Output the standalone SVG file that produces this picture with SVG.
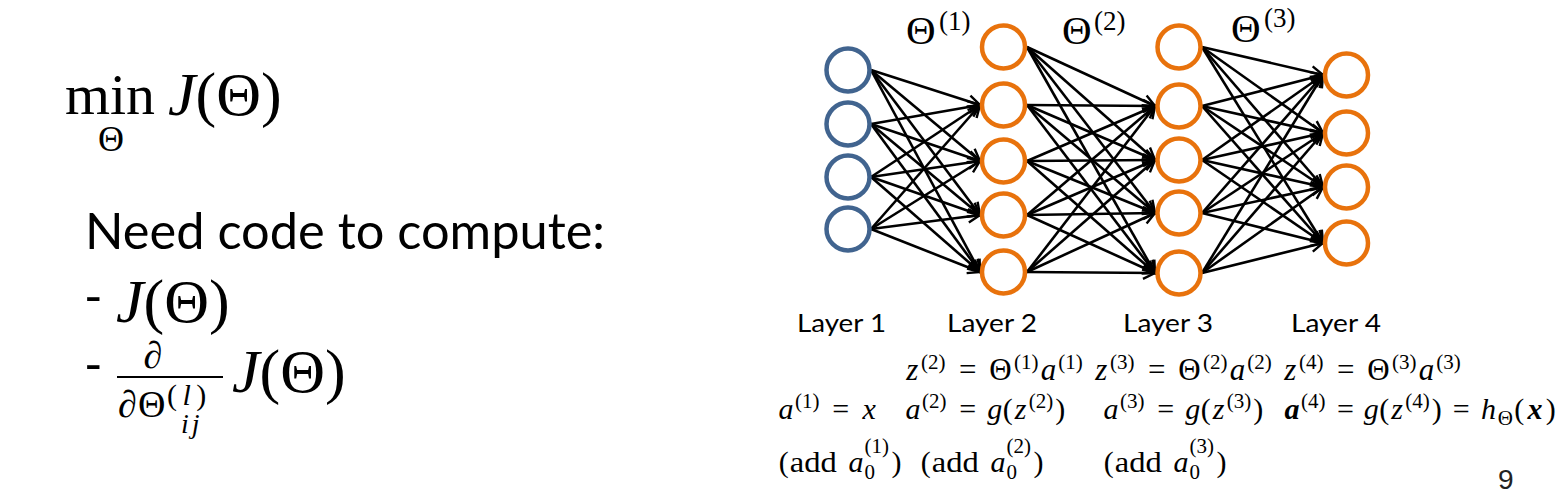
<svg xmlns="http://www.w3.org/2000/svg" width="1560" height="500" viewBox="0 0 1560 500">
<style>
.m{font-family:"Liberation Serif","Times New Roman",serif;fill:#000}
.i{font-style:italic}
.c{text-anchor:middle}
.s{font-size:21px}
.b1{font-size:31px}
.b{font-size:30px}
.sans{font-family:Lato,"Open Sans","Liberation Sans",sans-serif;fill:#000}
.n1{fill:#fff;stroke:#41648F;stroke-width:4.5}
.n2{fill:#fff;stroke:#E8720C;stroke-width:4.5}
.e{stroke:#000;stroke-width:2.6;fill:none;marker-end:url(#ah)}
</style>
<defs>
<marker id="ah" markerUnits="userSpaceOnUse" markerWidth="18" markerHeight="18" refX="14" refY="8" orient="auto">
<path d="M2,2 L14,8 L2,14" fill="none" stroke="#000" stroke-width="2.4"/>
</marker>
</defs>
<rect width="1560" height="500" fill="#fff"/>

<g id="left-math">
<text class="m" x="65" y="114" font-size="56" textLength="90" lengthAdjust="spacingAndGlyphs">min</text>
<text class="m c" x="111" y="151" font-size="36">Θ</text>
<text class="m" x="168" y="115" font-size="62"><tspan font-style="italic">J</tspan>(Θ)</text>
<text class="sans" x="85" y="249" font-size="50" textLength="520" lengthAdjust="spacingAndGlyphs">Need code to compute:</text>
<text class="sans" x="84" y="314" font-size="50">-</text>
<text class="m" x="116" y="322" font-size="62"><tspan font-style="italic">J</tspan>(Θ)</text>
<text class="sans" x="84" y="382" font-size="50">-</text>
<text class="m i c" x="153" y="368" font-size="38">∂</text>
<line x1="117" y1="377" x2="223" y2="377" stroke="#000" stroke-width="2"/>
<text class="m i" x="118" y="417" font-size="38">∂</text>
<text class="m" x="138" y="417" font-size="38">Θ</text>
<text class="m" x="167" y="405" font-size="30" letter-spacing="5.5">(<tspan font-style="italic">l</tspan>)</text>
<text class="m i" x="181" y="433" font-size="28" letter-spacing="3">ij</text>
<text class="m" x="232" y="392" font-size="62"><tspan font-style="italic">J</tspan>(Θ)</text>
</g>

<g id="connectors">
<line class="e" x1="871" y1="70" x2="980" y2="105"/>
<line class="e" x1="871" y1="70" x2="980" y2="161"/>
<line class="e" x1="871" y1="70" x2="980" y2="215"/>
<line class="e" x1="871" y1="70" x2="980" y2="272"/>
<line class="e" x1="871" y1="124" x2="980" y2="105"/>
<line class="e" x1="871" y1="124" x2="980" y2="161"/>
<line class="e" x1="871" y1="124" x2="980" y2="215"/>
<line class="e" x1="871" y1="124" x2="980" y2="272"/>
<line class="e" x1="871" y1="177" x2="980" y2="105"/>
<line class="e" x1="871" y1="177" x2="980" y2="161"/>
<line class="e" x1="871" y1="177" x2="980" y2="215"/>
<line class="e" x1="871" y1="177" x2="980" y2="272"/>
<line class="e" x1="871" y1="229" x2="980" y2="105"/>
<line class="e" x1="871" y1="229" x2="980" y2="161"/>
<line class="e" x1="871" y1="229" x2="980" y2="215"/>
<line class="e" x1="871" y1="229" x2="980" y2="272"/>

<line class="e" x1="1027" y1="47" x2="1155" y2="106"/>
<line class="e" x1="1027" y1="47" x2="1155" y2="160"/>
<line class="e" x1="1027" y1="47" x2="1155" y2="213"/>
<line class="e" x1="1027" y1="47" x2="1155" y2="273"/>
<line class="e" x1="1027" y1="105" x2="1155" y2="106"/>
<line class="e" x1="1027" y1="105" x2="1155" y2="160"/>
<line class="e" x1="1027" y1="105" x2="1155" y2="213"/>
<line class="e" x1="1027" y1="105" x2="1155" y2="273"/>
<line class="e" x1="1027" y1="161" x2="1155" y2="106"/>
<line class="e" x1="1027" y1="161" x2="1155" y2="160"/>
<line class="e" x1="1027" y1="161" x2="1155" y2="213"/>
<line class="e" x1="1027" y1="161" x2="1155" y2="273"/>
<line class="e" x1="1027" y1="215" x2="1155" y2="106"/>
<line class="e" x1="1027" y1="215" x2="1155" y2="160"/>
<line class="e" x1="1027" y1="215" x2="1155" y2="213"/>
<line class="e" x1="1027" y1="215" x2="1155" y2="273"/>
<line class="e" x1="1027" y1="272" x2="1155" y2="106"/>
<line class="e" x1="1027" y1="272" x2="1155" y2="160"/>
<line class="e" x1="1027" y1="272" x2="1155" y2="213"/>
<line class="e" x1="1027" y1="272" x2="1155" y2="273"/>

<line class="e" x1="1202" y1="47" x2="1323" y2="75"/>
<line class="e" x1="1202" y1="47" x2="1323" y2="133"/>
<line class="e" x1="1202" y1="47" x2="1323" y2="187"/>
<line class="e" x1="1202" y1="47" x2="1323" y2="243"/>
<line class="e" x1="1202" y1="106" x2="1323" y2="75"/>
<line class="e" x1="1202" y1="106" x2="1323" y2="133"/>
<line class="e" x1="1202" y1="106" x2="1323" y2="187"/>
<line class="e" x1="1202" y1="106" x2="1323" y2="243"/>
<line class="e" x1="1202" y1="160" x2="1323" y2="75"/>
<line class="e" x1="1202" y1="160" x2="1323" y2="133"/>
<line class="e" x1="1202" y1="160" x2="1323" y2="187"/>
<line class="e" x1="1202" y1="160" x2="1323" y2="243"/>
<line class="e" x1="1202" y1="213" x2="1323" y2="75"/>
<line class="e" x1="1202" y1="213" x2="1323" y2="133"/>
<line class="e" x1="1202" y1="213" x2="1323" y2="187"/>
<line class="e" x1="1202" y1="213" x2="1323" y2="243"/>
<line class="e" x1="1202" y1="273" x2="1323" y2="75"/>
<line class="e" x1="1202" y1="273" x2="1323" y2="133"/>
<line class="e" x1="1202" y1="273" x2="1323" y2="187"/>
<line class="e" x1="1202" y1="273" x2="1323" y2="243"/>
</g>

<g id="layer1">
<circle class="n1" cx="848" cy="70" r="21.5"/>
<circle class="n1" cx="848" cy="124" r="21.5"/>
<circle class="n1" cx="848" cy="177" r="21.5"/>
<circle class="n1" cx="848" cy="229" r="21.5"/>
</g>
<g id="layer2">
<circle class="n2" cx="1003.5" cy="47" r="21.5"/>
<circle class="n2" cx="1003.5" cy="105" r="21.5"/>
<circle class="n2" cx="1003.5" cy="161" r="21.5"/>
<circle class="n2" cx="1003.5" cy="215" r="21.5"/>
<circle class="n2" cx="1003.5" cy="272" r="21.5"/>
</g>
<g id="layer3">
<circle class="n2" cx="1179" cy="47" r="21.5"/>
<circle class="n2" cx="1179" cy="106" r="21.5"/>
<circle class="n2" cx="1179" cy="160" r="21.5"/>
<circle class="n2" cx="1179" cy="213" r="21.5"/>
<circle class="n2" cx="1179" cy="273" r="21.5"/>
</g>
<g id="layer4">
<circle class="n2" cx="1346.5" cy="75" r="21.5"/>
<circle class="n2" cx="1346.5" cy="133" r="21.5"/>
<circle class="n2" cx="1346.5" cy="187" r="21.5"/>
<circle class="n2" cx="1346.5" cy="243" r="21.5"/>
</g>

<g id="theta-labels">
<text class="m" x="906" y="44" font-size="41">Θ</text>
<text class="m" x="939" y="30" font-size="27">(1)</text>
<text class="m" x="1062" y="44" font-size="41">Θ</text>
<text class="m" x="1094" y="30" font-size="27">(2)</text>
<text class="m" x="1231" y="42" font-size="41">Θ</text>
<text class="m" x="1264" y="27" font-size="27">(3)</text>
</g>

<g id="layer-labels" font-size="25">
<text class="sans" x="797" y="332" textLength="89" lengthAdjust="spacingAndGlyphs">Layer 1</text>
<text class="sans" x="947" y="332" textLength="90" lengthAdjust="spacingAndGlyphs">Layer 2</text>
<text class="sans" x="1123" y="332" textLength="90" lengthAdjust="spacingAndGlyphs">Layer 3</text>
<text class="sans" x="1291" y="332" textLength="90" lengthAdjust="spacingAndGlyphs">Layer 4</text>
</g>

<g id="equations">
<!-- line 1 -->
<text class="m b1 i c" x="912.2" y="380">z</text><text class="m s c" x="933.25" y="369">(2)</text>
<text class="m b1 c" x="967.75" y="380">=</text>
<text class="m b1 c" x="1000.45" y="380">Θ</text><text class="m s c" x="1026.35" y="369">(1)</text>
<text class="m b1 i c" x="1048.4" y="380">a</text><text class="m s c" x="1070.45" y="369">(1)</text>

<text class="m b1 i c" x="1101.2" y="380">z</text><text class="m s c" x="1122.25" y="369">(3)</text>
<text class="m b1 c" x="1156.75" y="380">=</text>
<text class="m b1 c" x="1189.45" y="380">Θ</text><text class="m s c" x="1215.35" y="369">(2)</text>
<text class="m b1 i c" x="1237.4" y="380">a</text><text class="m s c" x="1259.45" y="369">(2)</text>

<text class="m b1 i c" x="1290.2" y="380">z</text><text class="m s c" x="1311.25" y="369">(4)</text>
<text class="m b1 c" x="1345.75" y="380">=</text>
<text class="m b1 c" x="1378.45" y="380">Θ</text><text class="m s c" x="1404.35" y="369">(3)</text>
<text class="m b1 i c" x="1426.4" y="380">a</text><text class="m s c" x="1448.45" y="369">(3)</text>

<!-- line 2 -->
<text class="m b i c" x="785.9" y="419">a</text><text class="m s c" x="807.3" y="408">(1)</text>
<text class="m b c" x="840.6" y="419">=</text>
<text class="m b i c" x="869.2" y="419">x</text>

<text class="m b i c" x="912.95" y="419">a</text><text class="m s c" x="934.3" y="408">(2)</text>
<text class="m b c" x="967.65" y="419">=</text>
<text class="m b i c" x="994.75" y="419">g</text><text class="m b c" x="1007.75" y="419">(</text>
<text class="m b i c" x="1020.6" y="419">z</text><text class="m s c" x="1041" y="408">(2)</text>
<text class="m b c" x="1060.25" y="419">)</text>

<text class="m b i c" x="1110.95" y="419">a</text><text class="m s c" x="1132.3" y="408">(3)</text>
<text class="m b c" x="1165.65" y="419">=</text>
<text class="m b i c" x="1192.75" y="419">g</text><text class="m b c" x="1205.75" y="419">(</text>
<text class="m b i c" x="1218.6" y="419">z</text><text class="m s c" x="1239" y="408">(3)</text>
<text class="m b c" x="1258.25" y="419">)</text>

<text class="m b i c" x="1291.95" y="419" font-weight="bold">a</text><text class="m s c" x="1313.3" y="408">(4)</text>
<text class="m b c" x="1345.35" y="419">=</text>
<text class="m b i c" x="1371.15" y="419">g</text><text class="m b c" x="1384.15" y="419">(</text>
<text class="m b i c" x="1397" y="419">z</text><text class="m s c" x="1417.4" y="408">(4)</text>
<text class="m b c" x="1436.65" y="419">)</text>
<text class="m b c" x="1461.15" y="419">=</text>
<text class="m b i c" x="1488.45" y="419">h</text><text class="m s c" x="1505.3" y="425">Θ</text>
<text class="m b c" x="1519.35" y="419">(</text>
<text class="m b i c" x="1535.1" y="419" font-weight="bold">x</text>
<text class="m b c" x="1550.85" y="419">)</text>

<!-- line 3 -->
<text class="m b c" x="783.85" y="472">(</text>
<text class="m b" x="789.7" y="472" textLength="47" lengthAdjust="spacingAndGlyphs">add</text>
<text class="m b i c" x="856" y="472">a</text>
<text class="m s" x="864.5" y="453">(1)</text><text class="m s" x="864.5" y="479">0</text>
<text class="m b c" x="896.55" y="472">)</text>

<text class="m b c" x="925.85" y="472">(</text>
<text class="m b" x="931.7" y="472" textLength="47" lengthAdjust="spacingAndGlyphs">add</text>
<text class="m b i c" x="998" y="472">a</text>
<text class="m s" x="1006.5" y="453">(2)</text><text class="m s" x="1006.5" y="479">0</text>
<text class="m b c" x="1038.55" y="472">)</text>

<text class="m b c" x="1108.85" y="472">(</text>
<text class="m b" x="1114.7" y="472" textLength="47" lengthAdjust="spacingAndGlyphs">add</text>
<text class="m b i c" x="1181" y="472">a</text>
<text class="m s" x="1189.5" y="453">(3)</text><text class="m s" x="1189.5" y="479">0</text>
<text class="m b c" x="1221.55" y="472">)</text>
</g>

<text id="page-number" x="1498" y="489" font-family="Liberation Sans, Arial, sans-serif" font-size="28" fill="#222">9</text>
</svg>
